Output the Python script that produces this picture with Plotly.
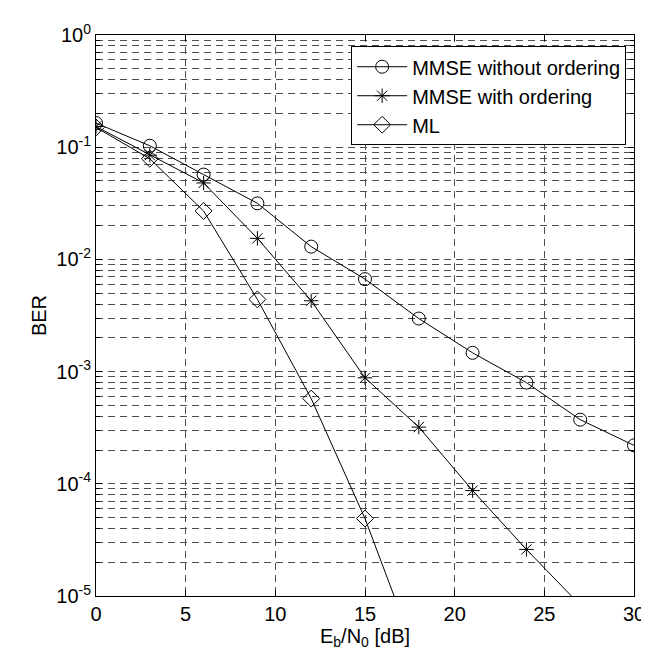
import plotly.graph_objects as go

ebn0 = [0, 3, 6, 9, 12, 15, 18, 21, 24, 27, 30]
ber_mmse_no_order = [0.164, 0.103, 0.057, 0.0316, 0.013, 0.00667, 0.00297, 0.00147, 0.000798, 0.000373, 0.00022]
ebn0_order = [0, 3, 6, 9, 12, 15, 18, 21, 24, 27]
ber_mmse_order = [0.153, 0.085, 0.048, 0.0154, 0.00428, 0.00088, 0.00032, 8.7e-5, 2.6e-5, 8.3e-6]
ebn0_ml = [0, 3, 6, 9, 12, 15, 18]
ber_ml = [0.15, 0.079, 0.027, 0.0044, 0.000575, 4.9e-5, 2.6e-6]

x_ticks = [0, 5, 10, 15, 20, 25, 30]
y_exps = [-5, -4, -3, -2, -1, 0]

FONT = "Liberation Sans, Arial, sans-serif"

fig = go.Figure()
fig.add_trace(go.Scatter(x=ebn0, y=ber_mmse_no_order, mode="lines+markers",
                         name="MMSE without ordering",
                         line=dict(color="black", width=1),
                         marker=dict(symbol="circle-open", size=13, color="black", line=dict(width=1))))
fig.add_trace(go.Scatter(x=ebn0_order, y=ber_mmse_order, mode="lines+markers",
                         name="MMSE with ordering",
                         line=dict(color="black", width=1),
                         marker=dict(symbol="asterisk-open", size=12, color="black", line=dict(width=1))))
fig.add_trace(go.Scatter(x=ebn0_ml, y=ber_ml, mode="lines+markers",
                         name="ML",
                         line=dict(color="black", width=1),
                         marker=dict(symbol="diamond-open", size=13, color="black", line=dict(width=1))))

grid_style = dict(gridcolor="#4d4d4d", gridwidth=1, griddash="7px,5px")
minor_vals = [k * 10 ** e for e in range(-5, 0) for k in range(2, 10)]

fig.update_layout(
    width=649, height=654,
    margin=dict(l=88, r=14, t=27, b=66),
    paper_bgcolor="white", plot_bgcolor="white",
    font=dict(family=FONT, size=20, color="black"),
    showlegend=True,
    legend=dict(x=0.9854, y=0.980, xanchor="right", yanchor="top",
                bgcolor="white", bordercolor="black", borderwidth=1,
                font=dict(size=20, family=FONT), itemwidth=50),
    xaxis=dict(range=[0, 30], tickvals=x_ticks, ticktext=[str(v) for v in x_ticks],
               showgrid=True, **grid_style, zeroline=False,
               showline=True, linecolor="black", linewidth=1, mirror="ticks",
               ticks="inside", ticklen=6, tickcolor="black",
               tickfont=dict(size=20),
               title=dict(text="E<sub>b</sub>/N<sub>0</sub> [dB]", standoff=4,
                          font=dict(size=20))),
    yaxis=dict(type="log", range=[-5, 0],
               tickvals=[10 ** e for e in y_exps],
               ticktext=[f"10<sup>{e}</sup>" for e in y_exps],
               showgrid=True, **grid_style, zeroline=False,
               showline=True, linecolor="black", linewidth=1, mirror="ticks",
               ticks="inside", ticklen=6, tickcolor="black",
               tickfont=dict(size=20),
               minor=dict(tickvals=minor_vals, showgrid=True, ticks="inside", ticklen=4,
                          tickcolor="black", **grid_style),
               title=dict(text="BER", standoff=4, font=dict(size=20))),
)

fig.write_html("out.html")
